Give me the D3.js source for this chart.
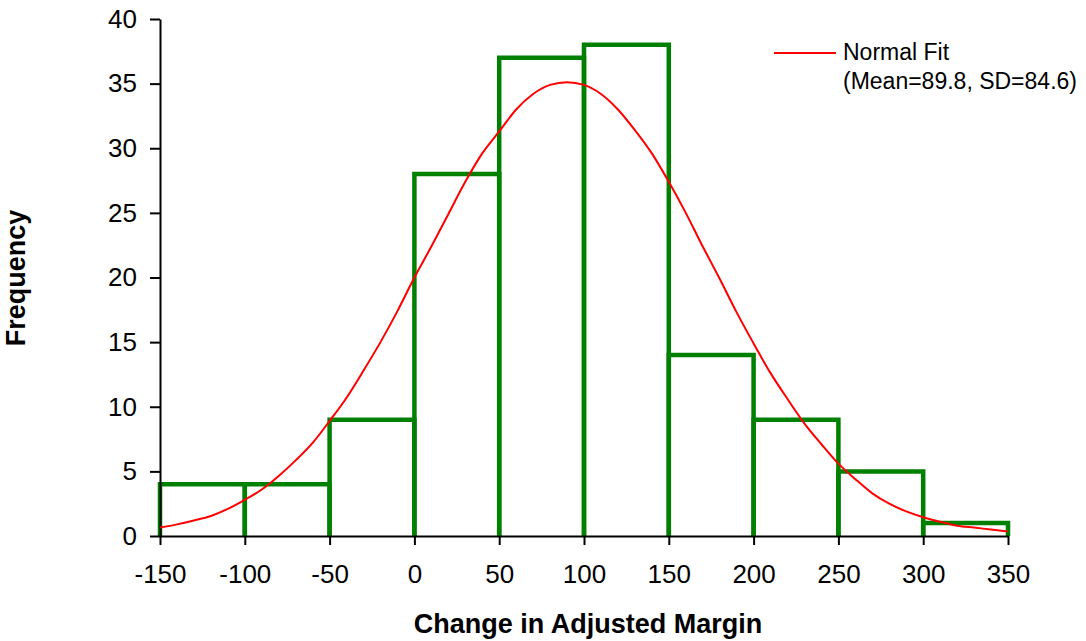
<!DOCTYPE html>
<html>
<head>
<meta charset="utf-8">
<script src="https://cdn.jsdelivr.net/npm/d3@7"></script>
<style>
  body { margin: 0; background: #fff; }
  svg text { font-family: "Liberation Sans", Arial, sans-serif; fill: #000; }
</style>
</head>
<body>
<div id="chart"></div>
<script>
// histogram bins (left edge, right edge) and counts
const binStart = [-150, -100, -50, 0, 50, 100, 150, 200, 250, 300];
const binEnd = [-100, -50, 0, 50, 100, 150, 200, 250, 300, 350];
const counts = [4, 4, 9, 28, 37, 38, 14, 9, 5, 1];

// normal fit curve
const fitX = [-150, -140, -130, -120, -110, -100, -90, -80, -70, -60, -50, -40, -30, -20, -10,
  0, 10, 20, 30, 40, 50, 60, 70, 80, 90, 100, 110, 120, 130, 140, 150, 160, 170, 180, 190,
  200, 210, 220, 230, 240, 250, 260, 270, 280, 290, 300, 310, 320, 330, 340, 350];
const fitY = [0.65, 0.9, 1.2, 1.55, 2.1, 2.8, 3.6, 4.65, 5.85, 7.2, 8.9, 10.7, 12.8, 15.0, 17.4,
  20.0, 22.4, 24.9, 27.4, 29.6, 31.3, 33.0, 34.2, 34.9, 35.1, 34.9, 34.2, 33.0, 31.4, 29.6, 27.4,
  25.0, 22.4, 19.9, 17.3, 14.9, 12.6, 10.6, 8.7, 7.1, 5.6, 4.4, 3.3, 2.5, 1.9, 1.45, 1.1, 0.8,
  0.65, 0.5, 0.35];

const xTicks = [-150, -100, -50, 0, 50, 100, 150, 200, 250, 300, 350];
const yTicks = [0, 5, 10, 15, 20, 25, 30, 35, 40];
const legendLines = ["Normal Fit", "(Mean=89.8, SD=84.6)"];

const width = 1086, height = 641;
const margin = { top: 19, right: 78, bottom: 105, left: 160 };

const svg = d3.select("#chart").append("svg")
  .attr("width", width)
  .attr("height", height);

const x = d3.scaleLinear()
  .domain([-150, 350])
  .range([margin.left, width - margin.right]);

const y = d3.scaleLinear()
  .domain([0, 40])
  .range([height - margin.bottom, margin.top]);

// histogram bars: open outlines (left, top, right), the axis closes them
const barPath = (d, i) => {
  const x0 = x(binStart[i]), x1 = x(binEnd[i]);
  return `M${x0},${y(0)}V${y(d)}H${x1}V${y(0)}`;
};

svg.append("g")
  .selectAll("path")
  .data(counts)
  .join("path")
  .attr("d", barPath)
  .attr("fill", "none")
  .attr("stroke", "#008000")
  .attr("stroke-width", 4.5)
  .attr("stroke-linejoin", "miter");

// axes
const plain = d => String(d); // plain hyphen minus like the original
const yAxis = svg.append("g")
  .attr("transform", `translate(${margin.left},0)`)
  .call(d3.axisLeft(y).tickValues(yTicks).tickFormat(plain)
    .tickSize(10).tickSizeOuter(0).tickPadding(13));

const xAxis = svg.append("g")
  .attr("transform", `translate(0,${height - margin.bottom})`)
  .call(d3.axisBottom(x).tickValues(xTicks).tickFormat(plain)
    .tickSize(9).tickSizeOuter(0).tickPadding(20));

[xAxis, yAxis].forEach(a => {
  a.selectAll("path, line").attr("stroke", "#000").attr("stroke-width", 2);
  a.selectAll("text").style("font-size", "26px");
});

// normal fit line
const line = d3.line()
  .x((d, i) => x(fitX[i]))
  .y(d => y(d))
  .curve(d3.curveMonotoneX);

svg.append("path")
  .datum(fitY)
  .attr("d", line)
  .attr("fill", "none")
  .attr("stroke", "#ff0000")
  .attr("stroke-width", 2);

// legend
const legend = svg.append("g").attr("transform", "translate(774,53)");
legend.append("line")
  .attr("x1", 0).attr("x2", 62)
  .attr("y1", 0).attr("y2", 0)
  .attr("stroke", "#ff0000")
  .attr("stroke-width", 2);
legend.selectAll("text")
  .data(legendLines)
  .join("text")
  .attr("x", 69)
  .attr("y", (d, i) => 7 + i * 29)
  .style("font-size", "23px")
  .text(d => d);

// axis titles
svg.append("text")
  .attr("x", 588)
  .attr("y", 633)
  .attr("text-anchor", "middle")
  .style("font-size", "27px")
  .style("font-weight", "bold")
  .text("Change in Adjusted Margin");

svg.append("text")
  .attr("transform", "translate(25,278) rotate(-90)")
  .attr("text-anchor", "middle")
  .style("font-size", "27px")
  .style("font-weight", "bold")
  .text("Frequency");
</script>
</body>
</html>
